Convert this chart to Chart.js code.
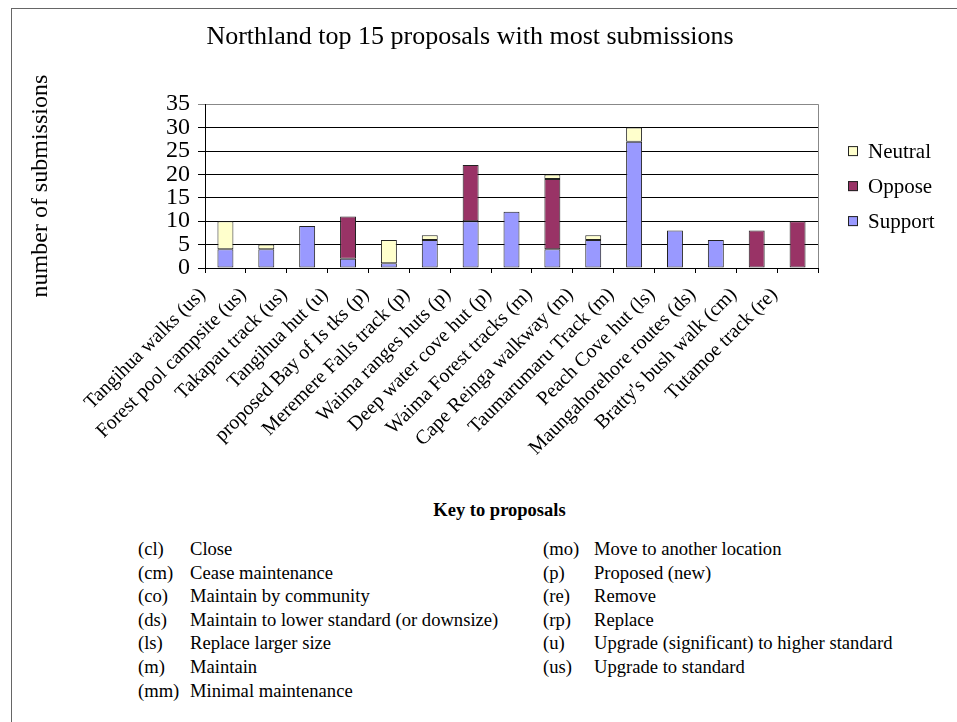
<!DOCTYPE html>
<html lang="en">
  <head>
    <meta charset="UTF-8" />
    <meta name="viewport" content="width=device-width, initial-scale=1.0" />
    <title>Northland top 15 proposals with most submissions</title>
    <style>
      * {
        margin: 0;
        padding: 0;
        box-sizing: border-box;
      }

      body {
        width: 957px;
        height: 722px;
        position: relative;
        overflow: hidden;
        background: #fff;
        color: #000;
        font-family: "Liberation Serif", "Times New Roman", serif;
      }

      .frame {
        position: absolute;
        left: 11px;
        top: 8px;
        right: 0;
        bottom: 0;
        border-left: 1px solid #666;
        border-top: 1px solid #666;
      }

      .chartBox {
        position: absolute;
        left: 0;
        top: 0;
        width: 957px;
        height: 470px;
      }

      .keyTitle {
        position: absolute;
        left: 0;
        top: 498px;
        width: 999px;
        text-align: center;
        font-weight: bold;
        font-size: 18.5px;
        line-height: 24px;
      }

      .key {
        position: absolute;
        top: 537px;
        font-size: 18.6px;
        line-height: 23.6px;
      }

      .key div {
        white-space: nowrap;
      }

      .key span {
        display: inline-block;
      }
    </style>
  </head>
  <body>
    <div class="frame"></div>
    <div class="chartBox">
      <canvas id="myChart"></canvas>
    </div>

    <div class="keyTitle">Key to proposals</div>
    <div class="key" id="keyLeft" style="left: 138px"></div>
    <div class="key" id="keyRight" style="left: 543px"></div>

    <script src="https://cdn.jsdelivr.net/npm/chart.js"></script>

    <script>
      const proposals = [
        "Tangihua walks (us)",
        "Forest pool campsite (us)",
        "Takapau track (us)",
        "Tangihua hut (u)",
        "proposed Bay of Is tks (p)",
        "Meremere Falls track (p)",
        "Waima ranges huts (p)",
        "Deep water cove hut (p)",
        "Waima Forest tracks (m)",
        "Cape Reinga walkway (m)",
        "Taumarumaru Track (m)",
        "Peach Cove hut (ls)",
        "Maungahorehore routes (ds)",
        "Bratty's bush walk (cm)",
        "Tutamoe track (re)",
      ];
      const support = [4, 4, 9, 2, 1, 6, 10, 12, 4, 6, 27, 8, 6, 0, 0];
      const oppose = [0, 0, 0, 9, 0, 0, 12, 0, 15, 0, 0, 0, 0, 8, 10];
      const neutral = [6, 1, 0, 0, 5, 1, 0, 0, 1, 1, 3, 0, 0, 0, 0];
      const yTicks = [0, 5, 10, 15, 20, 25, 30, 35];

      const keyLeft = [
        ["(cl)", "Close"],
        ["(cm)", "Cease maintenance"],
        ["(co)", "Maintain by community"],
        ["(ds)", "Maintain to lower standard (or downsize)"],
        ["(ls)", "Replace larger size"],
        ["(m)", "Maintain"],
        ["(mm)", "Minimal maintenance"],
      ];
      const keyRight = [
        ["(mo)", "Move to another location"],
        ["(p)", "Proposed (new)"],
        ["(re)", "Remove"],
        ["(rp)", "Replace"],
        ["(u)", "Upgrade (significant) to higher standard"],
        ["(us)", "Upgrade to standard"],
      ];

      function fillKey(id, rows, codeWidth) {
        const box = document.getElementById(id);
        rows.forEach((r) => {
          const line = document.createElement("div");
          const code = document.createElement("span");
          code.style.width = codeWidth + "px";
          code.textContent = r[0];
          const desc = document.createElement("span");
          desc.textContent = r[1];
          line.appendChild(code);
          line.appendChild(desc);
          box.appendChild(line);
        });
      }
      fillKey("keyLeft", keyLeft, 52);
      fillKey("keyRight", keyRight, 51);

      const serif = "'Liberation Serif', 'Times New Roman', serif";
      Chart.defaults.font.family = serif;
      Chart.defaults.color = "#000";

      // legend drawn to the right of the plot, Excel style (reversed order)
      const sideLegend = {
        id: "sideLegend",
        afterDraw(chart) {
          const { ctx, chartArea } = chart;
          const sets = chart.data.datasets.slice().reverse();
          const midY = (chartArea.top + chartArea.bottom) / 2;
          const rowH = 35;
          ctx.save();
          ctx.font = "21px " + serif;
          ctx.textBaseline = "middle";
          ctx.textAlign = "left";
          sets.forEach((ds, i) => {
            const y = midY + (i - (sets.length - 1) / 2) * rowH;
            const x = chartArea.right + 30;
            ctx.fillStyle = ds.backgroundColor;
            ctx.fillRect(x, y - 5, 10, 10);
            ctx.strokeStyle = "#222";
            ctx.lineWidth = 1;
            ctx.strokeRect(x + 0.5, y - 4.5, 9, 9);
            ctx.fillStyle = "#000";
            ctx.fillText(ds.label, x + 20, y + 1);
          });
          ctx.restore();
        },
        beforeDatasetsDraw(chart) {
          const { ctx, chartArea } = chart;
          ctx.save();
          ctx.strokeStyle = "#888";
          ctx.lineWidth = 1;
          ctx.beginPath();
          ctx.moveTo(Math.round(chartArea.right) + 0.5, chartArea.top);
          ctx.lineTo(Math.round(chartArea.right) + 0.5, chartArea.bottom);
          ctx.stroke();
          ctx.restore();
        },
      };

      const barStyle = {
        borderColor: "#222",
        borderWidth: 1,
        borderSkipped: false,
        barPercentage: 0.39,
        categoryPercentage: 1,
      };

      const data = {
        labels: proposals,
        datasets: [
          { label: "Support", data: support, backgroundColor: "#9999ff", ...barStyle },
          { label: "Oppose", data: oppose, backgroundColor: "#993366", ...barStyle },
          { label: "Neutral", data: neutral, backgroundColor: "#ffffcc", ...barStyle },
        ],
      };

      const config = {
        type: "bar",
        data: data,
        options: {
          responsive: true,
          maintainAspectRatio: false,
          animation: false,
          layout: { padding: { left: 0, right: 17, top: 0, bottom: 0 } },
          plugins: {
            legend: { display: false },
            tooltip: { enabled: false },
            title: {
              display: true,
              text: "Northland top 15 proposals with most submissions",
              color: "#000",
              font: { size: 26, weight: "normal" },
              padding: { top: 22, bottom: 51 },
            },
          },
          scales: {
            x: {
              stacked: true,
              grid: {
                drawOnChartArea: false,
                drawTicks: true,
                tickLength: 5,
                color: "#000",
                offset: true,
              },
              border: { color: "#000" },
              ticks: {
                autoSkip: false,
                maxRotation: 45,
                minRotation: 45,
                font: { size: 20 },
                color: "#000",
                padding: 10,
                labelOffset: -23,
              },
              afterFit(scale) {
                scale.height = 202;
              },
            },
            y: {
              stacked: true,
              min: 0,
              max: 35,
              afterBuildTicks(scale) {
                scale.ticks = yTicks.map((v) => ({ value: v }));
              },
              grid: {
                color: (c) => (c.tick && c.tick.value === 35 ? "#888" : "#000"),
                tickLength: 7,
              },
              border: { color: "#000" },
              ticks: {
                autoSkip: false,
                font: { size: 24, lineHeight: 1 },
                color: "#000",
                padding: 8,
              },
              title: {
                display: true,
                text: "number of submissions",
                color: "#000",
                font: { size: 24 },
                padding: { top: 26, bottom: 0 },
              },
              afterFit(scale) {
                scale.width = 205;
              },
            },
            y2: {
              position: "right",
              display: true,
              grid: { display: false },
              border: { display: false },
              ticks: { display: false },
              afterFit(scale) {
                scale.width = 122;
              },
            },
          },
        },
        plugins: [sideLegend],
      };

      const myChart = new Chart(document.getElementById("myChart"), config);
    </script>
  </body>
</html>
